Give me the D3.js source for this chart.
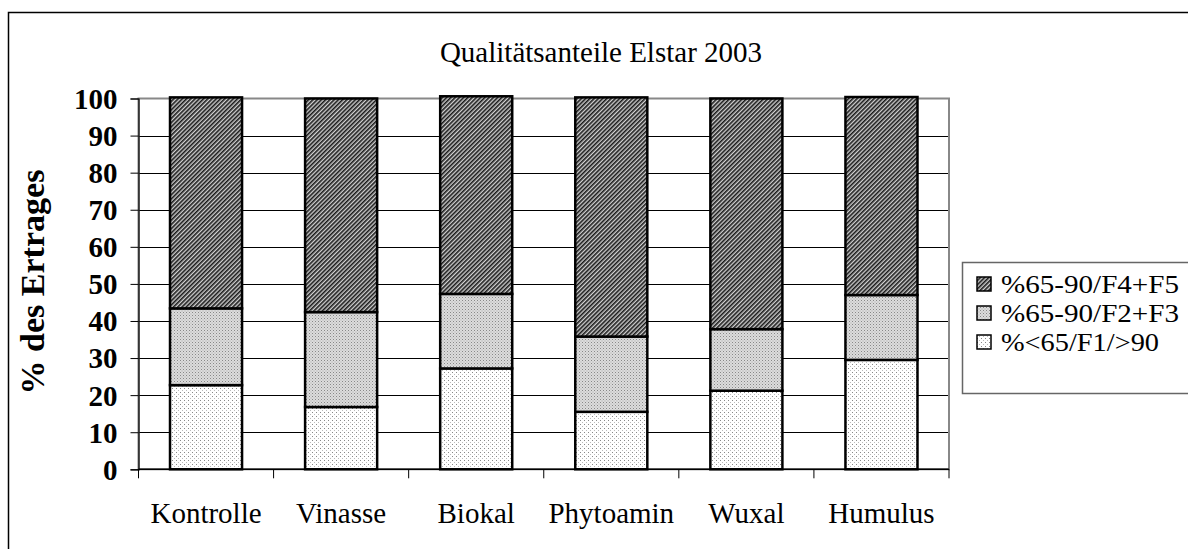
<!DOCTYPE html>
<html>
<head>
<meta charset="utf-8">
<script src="https://cdn.jsdelivr.net/npm/d3@7"></script>
<style>
  body { margin: 0; background: #fff; }
  svg { display: block; }
  text { font-family: "Liberation Serif", "Times New Roman", serif; fill: #000; }
</style>
</head>
<body>
<svg id="chart"></svg>
<script>
var categories = ["Kontrolle", "Vinasse", "Biokal", "Phytoamin", "Wuxal", "Humulus"];
var seriesNames = ["%<65/F1/>90", "%65-90/F2+F3", "%65-90/F4+F5"];
var low = [22.7, 16.8, 27.2, 15.5, 21.2, 29.5];
var mid = [20.7, 25.6, 20.1, 20.3, 16.6, 17.5];
var high = [56.9, 57.6, 53.3, 64.5, 62.2, 53.4];
var yTicks = [0, 10, 20, 30, 40, 50, 60, 70, 80, 90, 100];

var width = 1188, height = 549;
var margin = { left: 138.5, right: 949, top: 98.5, bottom: 469.3 };

var svg = d3.select("#chart").attr("width", width).attr("height", height);

// patterns
var defs = svg.append("defs");
var pHigh = defs.append("pattern").attr("id", "pHigh")
  .attr("patternUnits", "userSpaceOnUse").attr("width", 3).attr("height", 3)
  .attr("patternTransform", "rotate(45)");
pHigh.append("rect").attr("width", 3).attr("height", 3).attr("fill", "#d0d0d0");
pHigh.append("rect").attr("width", 1.6).attr("height", 3).attr("fill", "#1a1a1a");

var pMid = defs.append("pattern").attr("id", "pMid")
  .attr("patternUnits", "userSpaceOnUse").attr("width", 3).attr("height", 3);
pMid.append("rect").attr("width", 3).attr("height", 3).attr("fill", "#dcdcdc");
pMid.append("rect").attr("width", 1).attr("height", 1).attr("fill", "#888");
pMid.append("rect").attr("x", 1.5).attr("y", 1.5).attr("width", 1).attr("height", 1).attr("fill", "#a8a8a8");

var pLow = defs.append("pattern").attr("id", "pLow")
  .attr("patternUnits", "userSpaceOnUse").attr("width", 4).attr("height", 4);
pLow.append("rect").attr("width", 4).attr("height", 4).attr("fill", "#fff");
pLow.append("rect").attr("width", 1).attr("height", 1).attr("fill", "#888");
pLow.append("rect").attr("x", 2).attr("y", 2).attr("width", 1).attr("height", 1).attr("fill", "#bbb");

var fills = ["url(#pLow)", "url(#pMid)", "url(#pHigh)"];

// outer frame
svg.append("rect")
  .attr("x", 8.5).attr("y", 12.5).attr("width", 1200).attr("height", 600)
  .attr("fill", "none").attr("stroke", "#000").attr("stroke-width", 1.5);

var x = d3.scaleBand().domain(categories)
  .range([margin.left, margin.right]).paddingInner(0.4667).paddingOuter(0.2333);
var y = d3.scaleLinear().domain([0, 100]).range([margin.bottom, margin.top]);

// gridlines
svg.append("g").selectAll("line").data(yTicks.slice(1, -1)).enter().append("line")
  .attr("x1", margin.left).attr("x2", margin.right)
  .attr("y1", d => Math.round(y(d)) + 0.5).attr("y2", d => Math.round(y(d)) + 0.5)
  .attr("stroke", "#000").attr("stroke-width", 1);

// plot area border (gray)
svg.append("rect")
  .attr("x", margin.left).attr("y", y(100))
  .attr("width", margin.right - margin.left).attr("height", y(0) - y(100))
  .attr("fill", "none").attr("stroke", "#888").attr("stroke-width", 2);

// stacked data
var rows = categories.map((c, i) => ({ cat: c, s0: low[i], s1: mid[i], s2: high[i] }));
var stack = d3.stack().keys(["s0", "s1", "s2"])(rows);

svg.append("g").selectAll("g").data(stack).enter().append("g")
  .attr("fill", (d, i) => fills[i])
  .selectAll("rect").data(d => d).enter().append("rect")
  .attr("x", d => x(d.data.cat))
  .attr("width", x.bandwidth())
  .attr("y", d => y(d[1]))
  .attr("height", d => y(d[0]) - y(d[1]))
  .attr("stroke", "#000").attr("stroke-width", 2.5);

// y axis
var yAxis = d3.axisLeft(y).tickValues(yTicks).tickSize(8).tickPadding(13);
var gy = svg.append("g").attr("transform", `translate(${margin.left},0)`).call(yAxis);
gy.select(".domain").attr("stroke", "#000").attr("stroke-width", 1.2);
gy.selectAll(".tick line").attr("stroke", "#000");
gy.selectAll("text")
  .attr("font-size", 29).attr("font-weight", "bold").attr("dy", "0.34em")
  .attr("font-family", "Liberation Serif, serif");

// x axis
var boundaries = d3.range(categories.length + 1);
var xb = d3.scaleLinear().domain([0, categories.length]).range([margin.left, margin.right]);
svg.append("line")
  .attr("x1", margin.left).attr("x2", margin.right)
  .attr("y1", y(0)).attr("y2", y(0)).attr("stroke", "#000").attr("stroke-width", 1.5);
svg.append("g").selectAll("line").data(boundaries).enter().append("line")
  .attr("x1", d => xb(d)).attr("x2", d => xb(d))
  .attr("y1", y(0)).attr("y2", y(0) + 9).attr("stroke", "#000");
svg.append("g").selectAll("text").data(categories).enter().append("text")
  .attr("x", d => x(d) + x.bandwidth() / 2).attr("y", 523)
  .attr("text-anchor", "middle").attr("font-size", 29).text(d => d);

// title
svg.append("text").attr("x", 601).attr("y", 62).attr("text-anchor", "middle")
  .attr("font-size", 29).text("Qualitätsanteile Elstar 2003");

// y title
svg.append("text")
  .attr("transform", "translate(44,282) rotate(-90)")
  .attr("text-anchor", "middle").attr("font-size", 34).attr("font-weight", "bold")
  .text("% des Ertrages");

// legend
svg.append("rect").attr("x", 962.5).attr("y", 262.5).attr("width", 300).attr("height", 131)
  .attr("fill", "#fff").attr("stroke", "#666").attr("stroke-width", 1.5);
var legendOrder = [2, 1, 0];
var lg = svg.append("g").selectAll("g").data(legendOrder).enter().append("g")
  .attr("transform", (d, i) => `translate(977,${284 + i * 29})`);
lg.append("rect").attr("x", 0).attr("y", -7).attr("width", 14).attr("height", 14)
  .attr("fill", d => fills[d]).attr("stroke", "#000").attr("stroke-width", 1.5);
lg.append("text").attr("x", 24).attr("y", 8.5).attr("font-size", 25.5)
  .attr("textLength", d => d === 0 ? 158 : 178).attr("lengthAdjust", "spacingAndGlyphs")
  .text(d => seriesNames[d]);
</script>
</body>
</html>
